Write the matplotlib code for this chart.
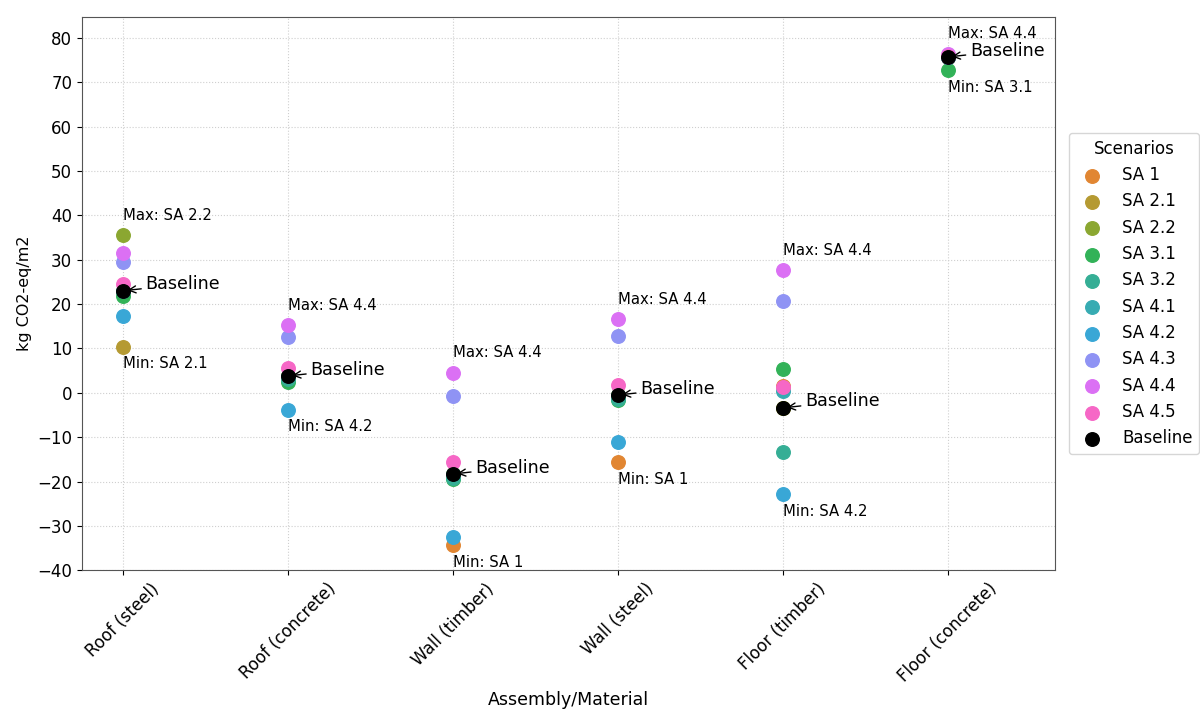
import matplotlib
matplotlib.use("Agg")
import matplotlib.pyplot as plt
import seaborn as sns

# categories on the x axis
assemblies = ["Roof (steel)", "Roof (concrete)", "Wall (timber)",
              "Wall (steel)", "Floor (timber)", "Floor (concrete)"]

scenarios = ["SA 1", "SA 2.1", "SA 2.2", "SA 3.1", "SA 3.2", "SA 4.1",
             "SA 4.2", "SA 4.3", "SA 4.4", "SA 4.5"]

# kg CO2-eq/m2 per scenario, one value per assembly
sa_1 = [23.0, 3.8, -34.3, -15.6, 1.6, 75.7]
sa_2_1 = [10.4, 3.8, -18.3, -0.5, -3.4, 75.7]
sa_2_2 = [35.5, 3.8, -18.3, -0.5, -3.4, 75.7]
sa_3_1 = [21.9, 2.5, -19.4, -1.6, 5.4, 72.8]
sa_3_2 = [23.0, 3.0, -19.2, -1.4, -13.3, 75.7]
sa_4_1 = [23.0, 3.8, -18.3, -0.5, 0.3, 75.7]
sa_4_2 = [17.4, -3.8, -32.6, -11.1, -22.8, 75.7]
sa_4_3 = [29.5, 12.6, -0.8, 12.7, 20.6, 75.7]
sa_4_4 = [31.5, 15.2, 4.5, 16.6, 27.6, 76.4]
sa_4_5 = [24.6, 5.5, -15.5, 1.8, 1.4, 76.0]
baseline = [23.0, 3.8, -18.3, -0.5, -3.4, 75.7]

series = [sa_1, sa_2_1, sa_2_2, sa_3_1, sa_3_2, sa_4_1,
          sa_4_2, sa_4_3, sa_4_4, sa_4_5]

colors = sns.husl_palette(11)[1:]

fig = plt.figure(figsize=(12, 7.11), dpi=100)
ax = fig.add_axes([0.0683, 0.198, 0.8107, 0.778])

x = list(range(len(assemblies)))
for name, vals, c in zip(scenarios, series, colors):
    ax.scatter(x, vals, s=95, color=c, label=name, zorder=3)
ax.scatter(x, baseline, s=95, color="black", label="Baseline", zorder=4)

# max / min / baseline annotations
for i in x:
    vals = [s[i] for s in series]
    imax = max(range(len(vals)), key=lambda k: vals[k])
    imin = min(range(len(vals)), key=lambda k: vals[k])
    ax.annotate(f"Max: {scenarios[imax]}", (i, vals[imax]),
                xytext=(0, 9), textcoords="offset points",
                ha="left", va="bottom", fontsize=10.7)
    ax.annotate(f"Min: {scenarios[imin]}", (i, vals[imin]),
                xytext=(0, -7), textcoords="offset points",
                ha="left", va="top", fontsize=10.7)
    ax.annotate("Baseline", (i, baseline[i]),
                xytext=(16, 1), textcoords="offset points",
                ha="left", va="baseline", fontsize=12.6,
                arrowprops=dict(arrowstyle="->", color="black", lw=1,
                                shrinkA=1, shrinkB=3))

ax.set_xticks(x)
ax.set_xticklabels(assemblies, rotation=45, ha="center", fontsize=12)
ax.set_xlim(-0.25, 5.65)
ax.set_ylim(-40, 84.7)
ax.set_yticks(range(-40, 81, 10))
ax.tick_params(axis="y", labelsize=12)
ax.grid(True, linestyle=":", linewidth=0.8, color="#cfcfcf")
ax.set_axisbelow(True)
for sp in ax.spines.values():
    sp.set_color("#555555")

ax.set_xlabel("Assembly/Material", fontsize=12.5)
ax.set_ylabel("kg CO2-eq/m2", fontsize=11.5)

ax.legend(title="Scenarios", loc="center left", bbox_to_anchor=(1.006, 0.5),
          fontsize=12, title_fontsize=12)

fig.savefig("out.png", dpi=100)
